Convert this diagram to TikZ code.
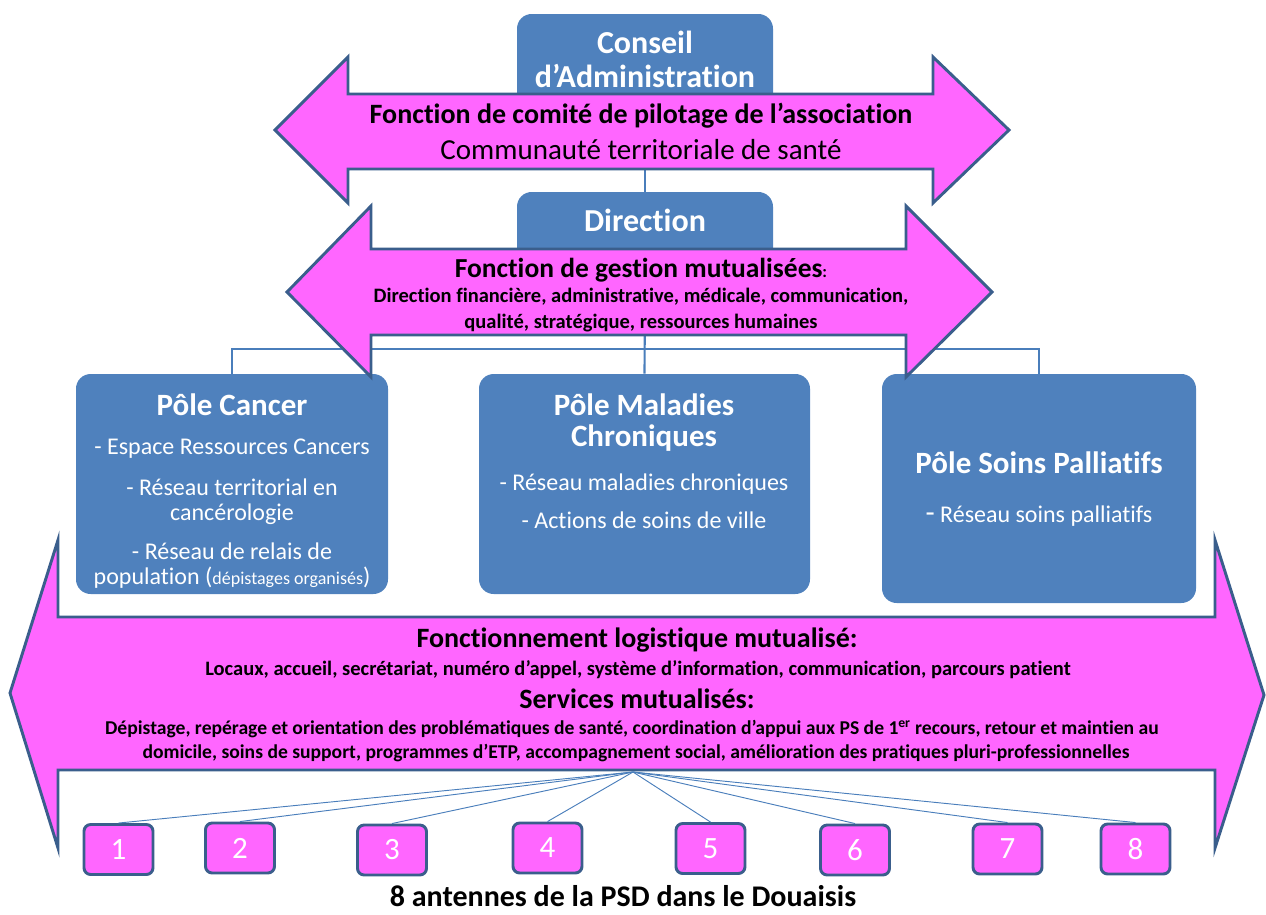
\documentclass[tikz,border=0pt]{standalone}
\usepackage{fontspec}
\setmainfont{Carlito}[Ligatures=NoCommon]
\usetikzlibrary{fit}
\definecolor{boxblue}{HTML}{4F81BD}
\definecolor{pinkf}{HTML}{FF66FF}
\definecolor{edgeb}{HTML}{3A5E8C}
\definecolor{linkb}{HTML}{4A7EBB}
\newcommand\pxf[1]{\fontsize{\fpeval{0.75*#1}pt}{\fpeval{0.9*#1}pt}\selectfont}
\tikzset{
  bluebox/.style={fill=boxblue, draw=none, inner sep=0pt, rounded corners=11pt},
  bigarrow/.style={fill=pinkf, draw=edgeb, line width=2.2pt, line join=miter},
  antenna/.style={fill=pinkf, draw=edgeb, line width=2.2pt, inner sep=0pt, rounded corners=5pt,
     text=white, font=\pxf{31}, minimum width=51.75pt, minimum height=37.5pt},
  link/.style={draw=linkb, line width=1.6pt},
  fan/.style={draw=linkb, line width=0.7pt},
  wt/.style={text=white, inner sep=0pt, align=center},
  bt/.style={text=black, inner sep=0pt, align=center},
}
\begin{document}
\begin{tikzpicture}[x=0.75pt,y=-0.75pt]
\useasboundingbox (0,0) rectangle (1266,914);

% boxes and org links (behind)
\node[bluebox, fit={(517,14) (773,125)}] (conseil) {};
\node[bluebox, fit={(517,192) (773,290)}] (direction) {};
\node[bluebox, fit={(76,374) (388,594)}] (cancer) {};
\node[bluebox, fit={(479,374) (810,594)}] (mc) {};
\node[bluebox, fit={(882,374) (1196,603)}] (sp) {};
\coordinate (bus) at (645,349);
\draw[link] (conseil.south) -- (direction.north);
\draw[link] (direction.south) -- (mc.north);
\draw[link] (cancer.north) |- (bus) -| (sp.north);

% top arrow
\draw[bigarrow] (275,130) -- (348,57) -- (348,94) -- (933,94) -- (933,57) -- (1009,130)
  -- (933,203) -- (933,169) -- (348,169) -- (348,203) -- cycle;
\node[wt, font=\fontsize{24pt}{25.5pt}\selectfont\bfseries] (conseilT) at (645,59) {Conseil\\d’Administration};
\node[bt, font=\pxf{28}\bfseries] (t1) at (641,116) {Fonction de comité de pilotage de l’association};
\node[bt, font=\pxf{29}] (t2) at (641,150) {Communauté territoriale de santé};

% middle arrow
\draw[bigarrow] (287,292) -- (371,206) -- (371,249) -- (906,249) -- (906,206) -- (992,292)
  -- (906,377) -- (906,335) -- (371,335) -- (371,377) -- cycle;
\node[wt, font=\pxf{32}\bfseries] (directionT) at (645,220) {Direction};
\node[bt, font=\pxf{27.5}\bfseries] (m1) at (641,270) {Fonction de gestion mutualisées{\pxf{17}:}};
\node[bt, font=\pxf{20.5}\bfseries] (m2) at (641,297) {Direction financière, administrative, médicale, communication,};
\node[bt, font=\pxf{20.5}\bfseries] (m3) at (641,323) {qualité, stratégique, ressources humaines};

% pole texts
\node[wt, font=\pxf{31}\bfseries] (c0) at (232,405) {Pôle Cancer};
\node[wt, font=\pxf{24}] (c1) at (232,449) {- Espace Ressources Cancers};
\node[wt, font=\pxf{24}] (c2) at (232,487) {- Réseau territorial en};
\node[wt, font=\pxf{24}] (c3) at (232,514) {cancérologie};
\node[wt, font=\pxf{24}] (c4) at (232,551) {- Réseau de relais de};
\node[wt, font=\pxf{24}] (c5) at (232,578) {population ({\pxf{18}dépistages organisés})};

\node[wt, font=\pxf{31}\bfseries] (d0) at (644,405) {Pôle Maladies};
\node[wt, font=\pxf{31}\bfseries] (d1) at (644,438) {Chroniques};
\node[wt, font=\pxf{24}] (d2) at (644,484) {- Réseau maladies chroniques};
\node[wt, font=\pxf{24}] (d3) at (644,520) {- Actions de soins de ville};

\node[wt, font=\pxf{31}\bfseries] (e0) at (1039,463) {Pôle Soins Palliatifs};
\node[wt, font=\pxf{24}] (e1) at (1039,516) {{\pxf{30}-} Réseau soins palliatifs};

% bottom arrow
\draw[bigarrow] (10,693) -- (58,540) -- (58,617) -- (1215,617) -- (1215,540) -- (1264,695)
  -- (1215,848) -- (1215,770) -- (58,770) -- (58,848) -- cycle;
\node[bt, font=\pxf{28}\bfseries] (b1) at (637,640) {Fonctionnement logistique mutualisé:};
\node[bt, font=\pxf{20.5}\bfseries] (b2) at (638,670) {Locaux, accueil, secrétariat, numéro d’appel, système d’information, communication, parcours patient};
\node[bt, font=\pxf{28}\bfseries] (b3) at (637,699) {Services mutualisés:};
\node[bt, font=\pxf{19.6}\bfseries] (b4) at (632,729) {Dépistage, repérage et orientation des problématiques de santé, coordination d’appui aux PS de 1\textsuperscript{er} recours, retour et maintien au};
\node[bt, font=\pxf{19.6}\bfseries] (b5) at (636,753) {domicile, soins de support, programmes d’ETP, accompagnement social, amélioration des pratiques pluri-professionnelles};

% antennas
\node[antenna] (a1) at (118.5,849.5) {1};
\node[antenna] (a2) at (240,848) {2};
\node[antenna] (a3) at (392,850) {3};
\node[antenna] (a4) at (547.5,848) {4};
\node[antenna] (a5) at (710.5,848.5) {5};
\node[antenna] (a6) at (855,850) {6};
\node[antenna] (a7) at (1007.5,849) {7};
\node[antenna] (a8) at (1135.5,849) {8};
\coordinate (hub) at (633,772);
\foreach \i in {1,...,8} { \draw[fan] (hub) -- (a\i.north); }

\node[bt, font=\pxf{30}\bfseries] (title) at (623,896) {8 antennes de la PSD dans le Douaisis};
\end{tikzpicture}
\end{document}
